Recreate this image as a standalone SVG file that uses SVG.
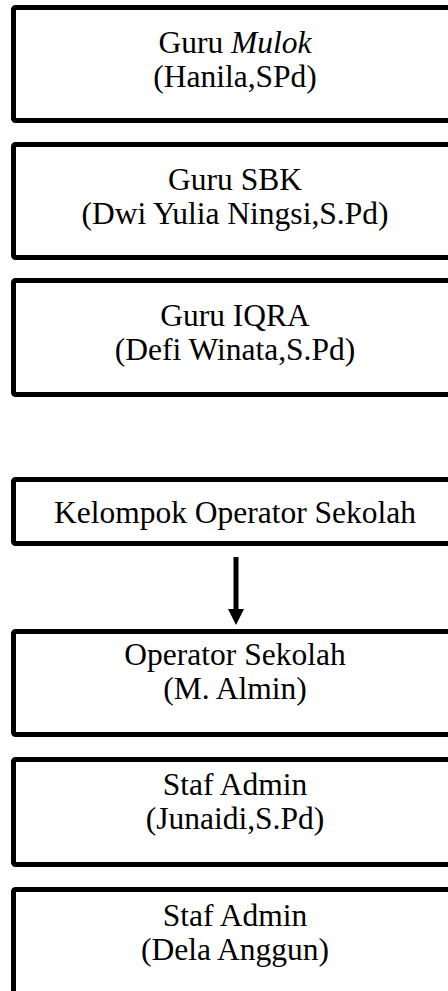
<svg xmlns="http://www.w3.org/2000/svg" width="448" height="991" viewBox="0 0 448 991">
<style>
.box{fill:#fff;stroke:#000;stroke-width:5;}
.t{font-family:"Liberation Serif","Times New Roman",serif;font-size:31.5px;fill:#000;text-anchor:middle;}
</style>
<rect width="448" height="991" fill="#fff"/>
<g id="guru-mulok"><rect class="box" x="13.5" y="7.5" width="445" height="113" rx="2"/><text class="t" x="235" y="53">Guru <tspan font-style="italic">Mulok</tspan></text><text class="t" x="235" y="87">(Hanila,SPd)</text></g>
<g id="guru-sbk"><rect class="box" x="13.5" y="144.5" width="445" height="113" rx="2"/><text class="t" x="235" y="190">Guru SBK</text><text class="t" x="235" y="224">(Dwi Yulia Ningsi,S.Pd)</text></g>
<g id="guru-iqra"><rect class="box" x="13.5" y="280.5" width="445" height="114" rx="2"/><text class="t" x="235" y="326">Guru IQRA</text><text class="t" x="235" y="360">(Defi Winata,S.Pd)</text></g>
<g id="kelompok-operator"><rect class="box" x="13.5" y="479.5" width="445" height="64" rx="2"/><text class="t" x="235" y="523">Kelompok Operator Sekolah</text></g>
<g id="operator-sekolah"><rect class="box" x="13.5" y="631.5" width="445" height="103" rx="2"/><text class="t" x="235" y="665">Operator Sekolah</text><text class="t" x="235" y="699">(M. Almin)</text></g>
<g id="staf-admin-1"><rect class="box" x="13.5" y="759.5" width="445" height="105" rx="2"/><text class="t" x="235" y="795">Staf Admin</text><text class="t" x="235" y="829">(Junaidi,S.Pd)</text></g>
<g id="staf-admin-2"><rect class="box" x="13.5" y="889.5" width="445" height="120" rx="2"/><text class="t" x="235" y="926">Staf Admin</text><text class="t" x="235" y="960">(Dela Anggun)</text></g>
<g id="connectors"><line x1="236" y1="557" x2="236" y2="611" stroke="#000" stroke-width="5"/><polygon points="228,609 244,609 236,625" fill="#000"/></g>
</svg>
